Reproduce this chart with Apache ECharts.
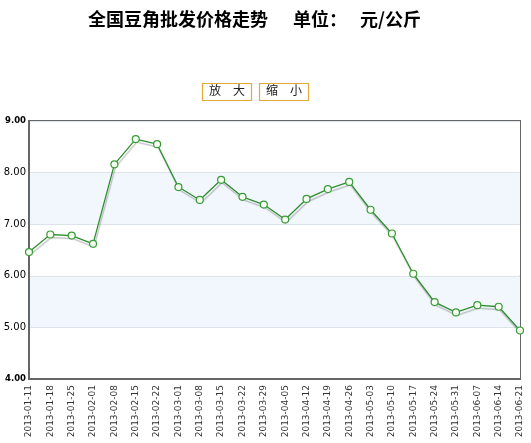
<!DOCTYPE html>
<html>
<head>
<meta charset="utf-8">
<script src="https://cdn.jsdelivr.net/npm/echarts@6/dist/echarts.min.js"></script>
<style>html,body{margin:0;padding:0;background:#fff;}#c{width:531px;height:443px;}</style>
</head>
<body>
<div id="c"></div>
<script>
var categories = ['2013-01-11','2013-01-18','2013-01-25','2013-02-01','2013-02-08','2013-02-15','2013-02-22','2013-03-01','2013-03-08','2013-03-15','2013-03-22','2013-03-29','2013-04-05','2013-04-12','2013-04-19','2013-04-26','2013-05-03','2013-05-10','2013-05-17','2013-05-24','2013-05-31','2013-06-07','2013-06-14','2013-06-21'];
var prices = [6.46,6.80,6.78,6.62,8.16,8.65,8.55,7.72,7.47,7.86,7.53,7.38,7.09,7.49,7.68,7.82,7.28,6.82,6.04,5.49,5.29,5.43,5.40,4.94];
var titleParts = ['全国豆角批发价格走势','单位：','元/公斤'];
var buttonLabels = ['放　大','缩　小'];
var yMin = 4, yMax = 9, yInterval = 1;

var chart = echarts.init(document.getElementById('c'));
chart.setOption({
  animation: false,
  backgroundColor: '#fff',
  graphic: [
    {type:'text', left:88, top:10, style:{text:titleParts[0], font:'bold 18px "Noto Sans CJK SC"', fill:'#000'}},
    {type:'text', left:293, top:10, style:{text:titleParts[1], font:'bold 18px "Noto Sans CJK SC"', fill:'#000'}},
    {type:'text', left:360, top:10, style:{text:titleParts[2], font:'bold 18px "Noto Sans CJK SC"', fill:'#000'}},
    {type:'rect', shape:{x:202.5, y:83.5, width:49, height:17}, style:{fill:'#fff', stroke:'#e3a93a', lineWidth:1.2}, z:10},
    {type:'text', left:209, top:84, style:{text:buttonLabels[0], font:'12px "Noto Sans CJK SC"', fill:'#222'}, z:11},
    {type:'rect', shape:{x:259.5, y:83.5, width:49, height:17}, style:{fill:'#fff', stroke:'#e3a93a', lineWidth:1.2}, z:10},
    {type:'text', left:266, top:84, style:{text:buttonLabels[1], font:'12px "Noto Sans CJK SC"', fill:'#222'}, z:11}
  ],
  grid: {left:29, right:11, top:121, bottom:64, show:true, borderColor:'#666', borderWidth:2, backgroundColor:'transparent', containLabel:false, outerBoundsMode:'none'},
  xAxis: {
    type:'category', data:categories, boundaryGap:false,
    axisLine:{show:true, lineStyle:{color:'#666', width:2}},
    axisTick:{show:false},
    axisLabel:{rotate:90, interval:0, fontSize:9, fontFamily:'DejaVu Sans', color:'#333', margin:6},
    splitLine:{show:false}
  },
  yAxis: {
    type:'value', min:yMin, max:yMax, interval:yInterval,
    axisLine:{show:true, lineStyle:{color:'#666', width:2}},
    axisTick:{show:false},
    axisLabel:{fontSize:10, fontFamily:'DejaVu Sans', color:'#000', margin:3,
      formatter:function(v){ var s=v.toFixed(2); return (v===yMin||v===yMax)?'{b|'+s+'}':s; },
      rich:{b:{fontWeight:'bold', fontSize:8.5, fontFamily:'DejaVu Sans', color:'#000'}}},
    splitLine:{show:true, lineStyle:{color:'#dde3ea', width:1}},
    splitArea:{show:true, areaStyle:{color:['#ffffff','#f2f7fd']}}
  },
  series: [{
    type:'line', data:prices,
    symbol:'circle', symbolSize:7,
    itemStyle:{color:'#f4fff0', borderColor:'#3a9a3a', borderWidth:1.2},
    lineStyle:{color:'#2f8f2f', width:1.3, shadowColor:'rgba(0,0,0,0.25)', shadowOffsetX:1, shadowOffsetY:3, shadowBlur:1},
    emphasis:{disabled:true}
  }]
});
</script>
</body>
</html>
